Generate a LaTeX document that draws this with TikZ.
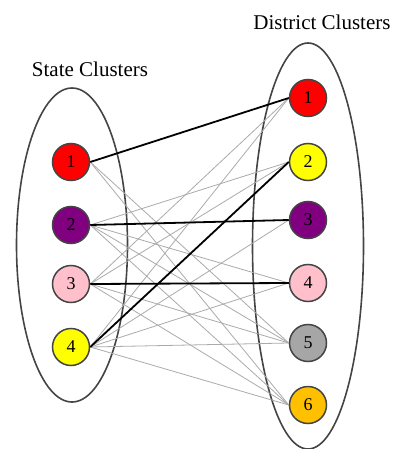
\documentclass[tikz,border=0pt]{standalone}
\usepackage{fontspec}
\setmainfont{Liberation Serif}
\usetikzlibrary{shapes.geometric}
\definecolor{cRed}{HTML}{FF0000}
\definecolor{cPurple}{HTML}{800080}
\definecolor{cPink}{HTML}{FFC0CB}
\definecolor{cYellow}{HTML}{FFFF00}
\definecolor{cGray}{HTML}{A6A6A6}
\definecolor{cOrange}{HTML}{FFC000}
\definecolor{rimCol}{HTML}{444444}
\definecolor{thinCol}{HTML}{AAAAAA}
\tikzset{
  cluster/.style={ellipse, draw=rimCol, line width=1.6pt, inner sep=0pt},
  member/.style={circle, draw=rimCol, line width=1.5pt, minimum size=37pt, inner sep=0pt, font=\fontsize{18}{18}\selectfont},
  title/.style={font=\fontsize{21}{21}\selectfont, inner sep=0pt},
  weak/.style={draw=thinCol, line width=0.8pt},
  strong/.style={draw=black, line width=1.8pt},
}
\begin{document}
\begin{tikzpicture}[x=1pt, y=-1pt]
\useasboundingbox (0,0) rectangle (395,449);
% cluster outlines
\node[cluster, minimum width=111pt, minimum height=314pt] (stateset) at (72,245) {};
\node[cluster, minimum width=111pt, minimum height=406pt] (districtset) at (308,246) {};
% titles
\node[title] (statetitle) at (90,69) {State Clusters};
\node[title] (districttitle) at (322,22) {District Clusters};
% state clusters
\node[member, fill=cRed] (s1) at (71,162) {1};
\node[member, fill=cPurple] (s2) at (71,225) {2};
\node[member, fill=cPink] (s3) at (71,284) {3};
\node[member, fill=cYellow] (s4) at (71,347) {4};
% district clusters
\node[member, fill=cRed] (d1) at (308,98) {1};
\node[member, fill=cYellow] (d2) at (308,162) {2};
\node[member, fill=cPurple] (d3) at (308,220) {3};
\node[member, fill=cPink] (d4) at (308,283) {4};
\node[member, fill=cGray] (d5) at (308,343) {5};
\node[member, fill=cOrange] (d6) at (308,405) {6};
% weaker state-district links
\foreach \s/\d in {1/5,1/6,
                   2/2,2/4,2/5,2/6,
                   3/1,3/2,3/5,3/6,
                   4/1,4/3,4/4,4/5,4/6}
  \draw[weak] (s\s.east) -- (d\d.west);
% best matches
\draw[strong] (s1.east) -- (d1.west);
\draw[strong] (s2.east) -- (d3.west);
\draw[strong] (s3.east) -- (d4.west);
\draw[strong] (s4.east) -- (d2.west);
\end{tikzpicture}
\end{document}
